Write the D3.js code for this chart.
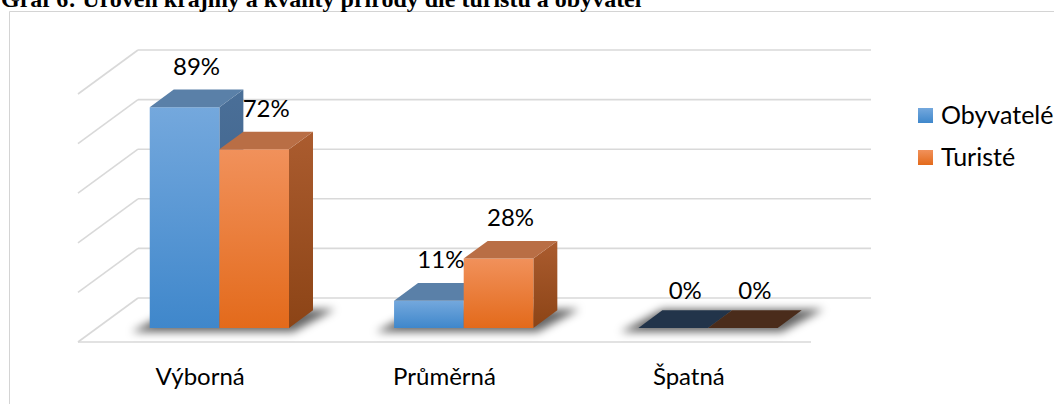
<!DOCTYPE html>
<html>
<head>
<meta charset="utf-8">
<script src="https://cdn.jsdelivr.net/npm/d3@7"></script>
<style>
  body { margin: 0; background: #fff; }
  svg { display: block; }
  .lbl { font-family: Lato, "Open Sans", sans-serif; font-size: 24px; fill: #000; }
  .leg { font-size: 25px; }
  .title { font-family: "Liberation Serif", "Times New Roman", serif; font-weight: bold; font-size: 24px; fill: #000; }
</style>
</head>
<body>
<svg id="chart" width="1054" height="404"></svg>
<script>
// data
const categories = ['Výborná', 'Průměrná', 'Špatná'];
const series = ['Obyvatelé', 'Turisté'];
const obyvatele = [89, 11, 0];
const turiste = [72, 28, 0];
const valueTicks = [0, 20, 40, 60, 80, 100];
const titleText = 'Graf 6: Úroveň krajiny a kvality přírody dle turistů a obyvatel';

const values = [obyvatele, turiste];

// face colours for each series
const shades = [
  { top: '#5a80a8', sideA: '#4a6f98', sideB: '#3b5d84', frontA: '#74a8dd', frontB: '#3f87cb', zero: '#22344a' },
  { top: '#b96e45', sideA: '#ab5c2f', sideB: '#8c4416', frontA: '#f1915b', frontB: '#e36a1b', zero: '#4a2c1b' }
];

// 3d layout
const floorLeft = 78, floorRight = 811, floorY = 342;
const DX = 60, DY = 44;
const zFront = 0.32, zBack = 0.72;

const svg = d3.select('#chart');
const defs = svg.append('defs');

shades.forEach((s, i) => {
  const gf = defs.append('linearGradient').attr('id', 'front' + i)
    .attr('x1', 0).attr('y1', 0).attr('x2', 0).attr('y2', 1);
  gf.append('stop').attr('offset', 0).attr('stop-color', s.frontA);
  gf.append('stop').attr('offset', 1).attr('stop-color', s.frontB);
  const gs = defs.append('linearGradient').attr('id', 'side' + i)
    .attr('x1', 0).attr('y1', 0).attr('x2', 0).attr('y2', 1);
  gs.append('stop').attr('offset', 0).attr('stop-color', s.sideA);
  gs.append('stop').attr('offset', 1).attr('stop-color', s.sideB);
});

defs.append('filter').attr('id', 'blur')
  .attr('x', '-30%').attr('y', '-100%').attr('width', '160%').attr('height', '300%')
  .append('feGaussianBlur').attr('stdDeviation', 4);

const x = d3.scaleBand().domain(categories).range([floorLeft, floorRight]);
const xs = d3.scaleBand().domain(series)
  .range([x.bandwidth() * 0.215, x.bandwidth() * 0.785]);
const y = d3.scaleLinear().domain([0, 100]).range([0, 248]);

// projection: front x, value, depth (0 = front of floor, 1 = back wall)
function P(px, v, z) {
  return [px + z * DX, floorY - y(v) - z * DY];
}
const poly = pts => pts.map(p => p.join(',')).join(' ');

// frame and title
svg.append('path').attr('d', 'M9.5,404 V11.5 H1054')
  .attr('fill', 'none').attr('stroke', '#d4d4d4').attr('stroke-width', 1);
svg.append('text').attr('class', 'title').attr('x', 1).attr('y', 7).text(titleText);

// back and side wall grid lines
const grid = svg.append('g').attr('stroke', '#d9d9d9').attr('stroke-width', 1.6).attr('fill', 'none');
valueTicks.forEach(v => {
  const a = P(floorLeft, v, 1), b = P(floorRight, v, 1), c = P(floorLeft, v, 0);
  grid.append('line').attr('x1', a[0]).attr('y1', a[1]).attr('x2', b[0]).attr('y2', b[1]);
  grid.append('line').attr('x1', c[0]).attr('y1', c[1]).attr('x2', a[0]).attr('y2', a[1]);
});
const f0 = P(floorLeft, 0, 0), f1 = P(floorRight, 0, 0);
grid.append('line').attr('x1', f0[0]).attr('y1', f0[1]).attr('x2', f1[0]).attr('y2', f1[1]);

// bar records
const bars = [];
categories.forEach((c, ci) => {
  series.forEach((s, si) => {
    const xl = x(c) + xs(s);
    bars.push({ ci, si, xl, xr: xl + xs.bandwidth(), v: values[si][ci] });
  });
});

// shadows on the floor
const shadowG = svg.append('g').attr('filter', 'url(#blur)');
categories.forEach((c, ci) => {
  const group = bars.filter(b => b.ci === ci);
  const xl = group[0].xl, xr = group[group.length - 1].xr;
  const a = P(xl, 0, zFront), b = P(xr, 0, zBack);
  shadowG.append('polygon')
    .attr('points', poly([[a[0] - 18, a[1] + 4], [a[0] + (xr - xl) + 4, a[1] + 4],
      [b[0] + 22, b[1] - 1], [b[0] - (xr - xl), b[1] - 1]]))
    .attr('fill', '#000').attr('opacity', 0.6);
});

// bars, painted left to right
const barG = svg.append('g');
bars.forEach(b => {
  const g = barG.append('g');
  const col = shades[b.si];
  const topPts = [P(b.xl, b.v, zFront), P(b.xr, b.v, zFront), P(b.xr, b.v, zBack), P(b.xl, b.v, zBack)];
  if (b.v === 0) {
    g.append('polygon').attr('points', poly(topPts)).attr('fill', col.zero);
    return;
  }
  g.append('polygon')
    .attr('points', poly([P(b.xr, 0, zFront), P(b.xr, 0, zBack), P(b.xr, b.v, zBack), P(b.xr, b.v, zFront)]))
    .attr('fill', 'url(#side' + b.si + ')');
  g.append('polygon')
    .attr('points', poly([P(b.xl, 0, zFront), P(b.xr, 0, zFront), P(b.xr, b.v, zFront), P(b.xl, b.v, zFront)]))
    .attr('fill', 'url(#front' + b.si + ')');
  g.append('polygon').attr('points', poly(topPts)).attr('fill', col.top);
});

// data labels
bars.forEach(b => {
  const c = P((b.xl + b.xr) / 2, b.v, (zFront + zBack) / 2);
  const back = P(b.xl, b.v, zBack);
  svg.append('text').attr('class', 'lbl')
    .attr('x', c[0]).attr('y', back[1] - (b.v === 0 ? 11 : 15))
    .attr('text-anchor', 'middle')
    .text(b.v + '%');
});

// category labels
categories.forEach(c => {
  svg.append('text').attr('class', 'lbl')
    .attr('x', x(c) + x.bandwidth() / 2).attr('y', 385)
    .attr('text-anchor', 'middle').text(c);
});

// legend
const legend = svg.append('g').attr('transform', 'translate(918,108)');
series.forEach((s, i) => {
  const row = legend.append('g').attr('transform', `translate(0,${i * 42})`);
  row.append('rect').attr('width', 15).attr('height', 15).attr('fill', 'url(#front' + i + ')');
  row.append('text').attr('class', 'lbl leg').attr('x', 23).attr('y', 16).text(s);
});
</script>
</body>
</html>
